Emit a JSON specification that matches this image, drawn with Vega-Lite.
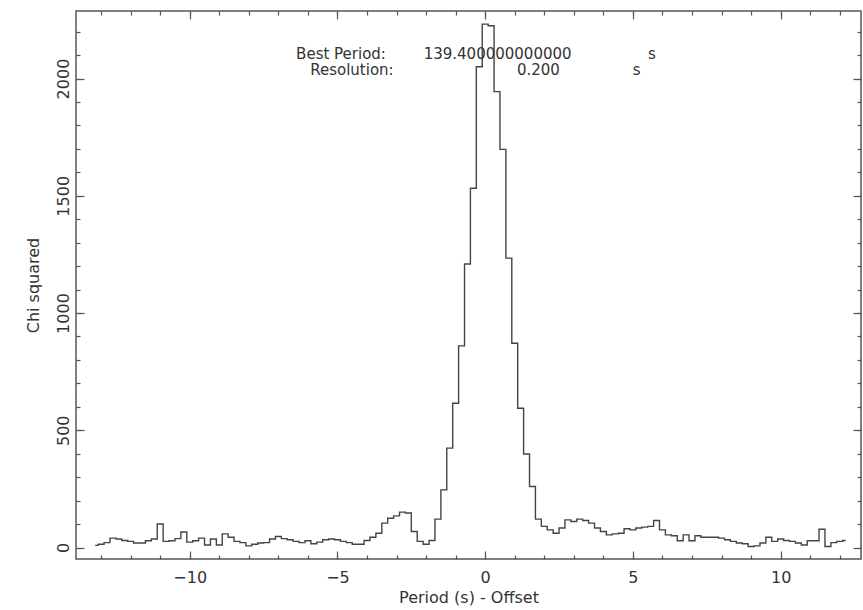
{
  "$schema": "https://vega.github.io/schema/vega-lite/v6.json",
  "width": 785,
  "height": 548,
  "autosize": {"type": "none"},
  "padding": {"left": 76, "top": 11, "right": 2, "bottom": 51},
  "background": "white",
  "config": {
    "view": {"stroke": "#555", "strokeWidth": 1.5},
    "font": "DejaVu Sans",
    "axis": {"grid": false, "domain": false, "tickColor": "#555", "tickWidth": 1.2, "labelColor": "#333", "titleColor": "#333", "labelFont": "DejaVu Sans", "titleFont": "DejaVu Sans", "labelFontSize": 16, "titleFontSize": 16, "titleFontWeight": "normal"}
  },
  "data": {"values": [
    {"period": -13.2, "chi2": 9}, {"period": -13.0, "chi2": 14}, {"period": -12.8, "chi2": 21}, {"period": -12.6, "chi2": 40},
    {"period": -12.4, "chi2": 36}, {"period": -12.2, "chi2": 30}, {"period": -12.0, "chi2": 26}, {"period": -11.8, "chi2": 19},
    {"period": -11.6, "chi2": 19}, {"period": -11.4, "chi2": 29}, {"period": -11.2, "chi2": 36}, {"period": -11.0, "chi2": 100},
    {"period": -10.8, "chi2": 26}, {"period": -10.6, "chi2": 29}, {"period": -10.4, "chi2": 38}, {"period": -10.2, "chi2": 66},
    {"period": -10.0, "chi2": 23}, {"period": -9.8, "chi2": 29}, {"period": -9.6, "chi2": 40}, {"period": -9.4, "chi2": 11},
    {"period": -9.2, "chi2": 36}, {"period": -9.0, "chi2": 11}, {"period": -8.8, "chi2": 58}, {"period": -8.6, "chi2": 44},
    {"period": -8.4, "chi2": 26}, {"period": -8.2, "chi2": 21}, {"period": -8.0, "chi2": 7}, {"period": -7.8, "chi2": 14},
    {"period": -7.6, "chi2": 19}, {"period": -7.4, "chi2": 21}, {"period": -7.2, "chi2": 36}, {"period": -7.0, "chi2": 47},
    {"period": -6.8, "chi2": 38}, {"period": -6.6, "chi2": 33}, {"period": -6.4, "chi2": 26}, {"period": -6.2, "chi2": 21},
    {"period": -6.0, "chi2": 29}, {"period": -5.8, "chi2": 16}, {"period": -5.6, "chi2": 23}, {"period": -5.4, "chi2": 33},
    {"period": -5.2, "chi2": 36}, {"period": -5.0, "chi2": 33}, {"period": -4.8, "chi2": 26}, {"period": -4.6, "chi2": 21},
    {"period": -4.4, "chi2": 14}, {"period": -4.2, "chi2": 14}, {"period": -4.0, "chi2": 30}, {"period": -3.8, "chi2": 44},
    {"period": -3.6, "chi2": 61}, {"period": -3.4, "chi2": 104}, {"period": -3.2, "chi2": 125}, {"period": -3.0, "chi2": 135},
    {"period": -2.8, "chi2": 151}, {"period": -2.6, "chi2": 147}, {"period": -2.4, "chi2": 68}, {"period": -2.2, "chi2": 26},
    {"period": -2.0, "chi2": 14}, {"period": -1.8, "chi2": 30}, {"period": -1.6, "chi2": 121}, {"period": -1.4, "chi2": 246},
    {"period": -1.2, "chi2": 424}, {"period": -1.0, "chi2": 615}, {"period": -0.8, "chi2": 860}, {"period": -0.6, "chi2": 1209},
    {"period": -0.4, "chi2": 1532}, {"period": -0.2, "chi2": 2050}, {"period": 0.0, "chi2": 2232}, {"period": 0.2, "chi2": 2225},
    {"period": 0.4, "chi2": 1944}, {"period": 0.6, "chi2": 1698}, {"period": 0.8, "chi2": 1234}, {"period": 1.0, "chi2": 871},
    {"period": 1.2, "chi2": 594}, {"period": 1.4, "chi2": 399}, {"period": 1.6, "chi2": 260}, {"period": 1.8, "chi2": 121},
    {"period": 2.0, "chi2": 90}, {"period": 2.2, "chi2": 75}, {"period": 2.4, "chi2": 61}, {"period": 2.6, "chi2": 83},
    {"period": 2.8, "chi2": 118}, {"period": 3.0, "chi2": 111}, {"period": 3.2, "chi2": 121}, {"period": 3.4, "chi2": 115},
    {"period": 3.6, "chi2": 104}, {"period": 3.8, "chi2": 83}, {"period": 4.0, "chi2": 68}, {"period": 4.2, "chi2": 54},
    {"period": 4.4, "chi2": 58}, {"period": 4.6, "chi2": 61}, {"period": 4.8, "chi2": 80}, {"period": 5.0, "chi2": 75},
    {"period": 5.2, "chi2": 83}, {"period": 5.4, "chi2": 87}, {"period": 5.6, "chi2": 90}, {"period": 5.8, "chi2": 115},
    {"period": 6.0, "chi2": 75}, {"period": 6.2, "chi2": 54}, {"period": 6.4, "chi2": 50}, {"period": 6.6, "chi2": 29},
    {"period": 6.8, "chi2": 54}, {"period": 7.0, "chi2": 29}, {"period": 7.2, "chi2": 50}, {"period": 7.4, "chi2": 44},
    {"period": 7.6, "chi2": 44}, {"period": 7.8, "chi2": 44}, {"period": 8.0, "chi2": 40}, {"period": 8.2, "chi2": 33},
    {"period": 8.4, "chi2": 26}, {"period": 8.6, "chi2": 19}, {"period": 8.8, "chi2": 16}, {"period": 9.0, "chi2": 4},
    {"period": 9.2, "chi2": 7}, {"period": 9.4, "chi2": 19}, {"period": 9.6, "chi2": 44}, {"period": 9.8, "chi2": 26},
    {"period": 10.0, "chi2": 36}, {"period": 10.2, "chi2": 30}, {"period": 10.4, "chi2": 26}, {"period": 10.6, "chi2": 19},
    {"period": 10.8, "chi2": 11}, {"period": 11.0, "chi2": 29}, {"period": 11.2, "chi2": 29}, {"period": 11.4, "chi2": 78},
    {"period": 11.6, "chi2": 4}, {"period": 11.8, "chi2": 21}, {"period": 12.0, "chi2": 26}, {"period": 12.2, "chi2": 30}
  ]},
  "layer": [
    {
      "mark": {"type": "line", "interpolate": "step", "color": "#444", "strokeWidth": 1.4},
      "encoding": {
        "x": {"field": "period", "type": "quantitative", "scale": {"domain": [-13.85, 12.72], "nice": false, "zero": false},
              "axis": {"orient": "bottom", "values": [-10, -5, 0, 5, 10], "tickSize": -8, "labelPadding": 18, "title": "Period (s) - Offset", "titlePadding": 4}},
        "y": {"field": "chi2", "type": "quantitative", "scale": {"domain": [-49, 2288], "nice": false, "zero": false},
              "axis": {"orient": "left", "values": [0, 500, 1000, 1500, 2000], "format": "d", "tickSize": -8, "labelAngle": -90, "labelPadding": 13, "title": "Chi squared", "titlePadding": 14}}
      }
    },
    {
      "mark": {"type": "line", "interpolate": "step", "opacity": 0},
      "encoding": {
        "x": {"field": "period", "type": "quantitative", "axis": {"orient": "bottom", "values": [-13,-12,-11,-10,-9,-8,-7,-6,-5,-4,-3,-2,-1,0,1,2,3,4,5,6,7,8,9,10,11,12], "tickSize": -4, "labels": false, "title": null}},
        "y": {"field": "chi2", "type": "quantitative", "axis": {"orient": "left", "values": [0,100,200,300,400,500,600,700,800,900,1000,1100,1200,1300,1400,1500,1600,1700,1800,1900,2000,2100,2200], "tickSize": -4, "labels": false, "title": null}}
      }
    },
    {
      "mark": {"type": "line", "interpolate": "step", "opacity": 0},
      "encoding": {
        "x": {"field": "period", "type": "quantitative", "axis": {"orient": "top", "values": [-10, -5, 0, 5, 10], "tickSize": -8, "labels": false, "title": null}},
        "y": {"field": "chi2", "type": "quantitative", "axis": {"orient": "right", "values": [0, 500, 1000, 1500, 2000], "tickSize": -8, "labels": false, "title": null}}
      }
    },
    {
      "mark": {"type": "line", "interpolate": "step", "opacity": 0},
      "encoding": {
        "x": {"field": "period", "type": "quantitative", "axis": {"orient": "top", "values": [-13,-12,-11,-10,-9,-8,-7,-6,-5,-4,-3,-2,-1,0,1,2,3,4,5,6,7,8,9,10,11,12], "tickSize": -4, "labels": false, "title": null}},
        "y": {"field": "chi2", "type": "quantitative", "axis": {"orient": "right", "values": [0,100,200,300,400,500,600,700,800,900,1000,1100,1200,1300,1400,1500,1600,1700,1800,1900,2000,2100,2200], "tickSize": -4, "labels": false, "title": null}}
      }
    },
    {
      "data": {"values": [{"t": "Best Period:"}]},
      "mark": {"type": "text", "fontSize": 15, "color": "#333", "baseline": "middle"},
      "encoding": {"text": {"field": "t"}, "x": {"datum": -4.88, "type": "quantitative", "axis": null}, "y": {"datum": 2106, "type": "quantitative", "axis": null}}
    },
    {
      "data": {"values": [{"t": "139.400000000000"}]},
      "mark": {"type": "text", "fontSize": 15, "color": "#333", "baseline": "middle"},
      "encoding": {"text": {"field": "t"}, "x": {"datum": 0.42, "type": "quantitative", "axis": null}, "y": {"datum": 2106, "type": "quantitative", "axis": null}}
    },
    {
      "data": {"values": [{"t": "s"}]},
      "mark": {"type": "text", "fontSize": 15, "color": "#333", "baseline": "middle"},
      "encoding": {"text": {"field": "t"}, "x": {"datum": 5.64, "type": "quantitative", "axis": null}, "y": {"datum": 2106, "type": "quantitative", "axis": null}}
    },
    {
      "data": {"values": [{"t": "Resolution:"}]},
      "mark": {"type": "text", "fontSize": 15, "color": "#333", "baseline": "middle"},
      "encoding": {"text": {"field": "t"}, "x": {"datum": -4.51, "type": "quantitative", "axis": null}, "y": {"datum": 2036, "type": "quantitative", "axis": null}}
    },
    {
      "data": {"values": [{"t": "0.200"}]},
      "mark": {"type": "text", "fontSize": 15, "color": "#333", "baseline": "middle"},
      "encoding": {"text": {"field": "t"}, "x": {"datum": 1.8, "type": "quantitative", "axis": null}, "y": {"datum": 2036, "type": "quantitative", "axis": null}}
    },
    {
      "data": {"values": [{"t": "s"}]},
      "mark": {"type": "text", "fontSize": 15, "color": "#333", "baseline": "middle"},
      "encoding": {"text": {"field": "t"}, "x": {"datum": 5.13, "type": "quantitative", "axis": null}, "y": {"datum": 2036, "type": "quantitative", "axis": null}}
    }
  ],
  "resolve": {"axis": {"x": "independent", "y": "independent"}}
}
